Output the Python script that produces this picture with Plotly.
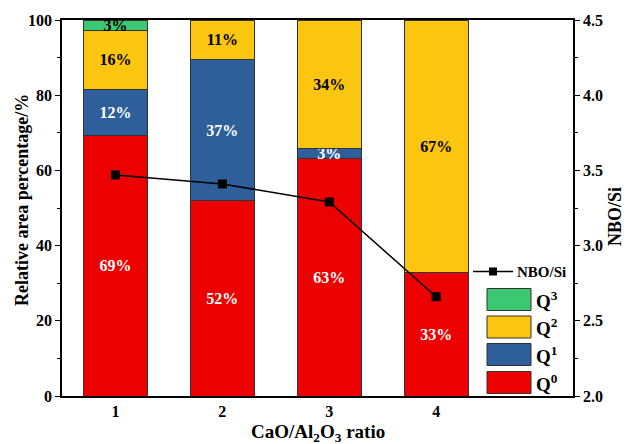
import plotly.graph_objects as go

categories = [1, 2, 3, 4]
q0 = [69.4, 51.9, 63.2, 32.8]
q1 = [12.1, 37.5, 2.7, 0]
q2 = [15.8, 10.6, 34.1, 67.2]
q3 = [2.7, 0, 0, 0]
q0_lbl = ["69%", "52%", "63%", "33%"]
q1_lbl = ["12%", "37%", "3%", ""]
q2_lbl = ["16%", "11%", "34%", "67%"]
q3_lbl = ["3%", "", "", ""]
nbo_si = [3.47, 3.41, 3.29, 2.66]

FONT = "Liberation Serif"
RED = "#EC0000"
BLUE = "#2F5F9B"
YELLOW = "#FCC50F"
GREEN = "#3CC873"
EDGE = "#333333"

series = [
    ("Q<sup>0</sup>", q0, q0_lbl, RED, "white"),
    ("Q<sup>1</sup>", q1, q1_lbl, BLUE, "white"),
    ("Q<sup>2</sup>", q2, q2_lbl, YELLOW, "black"),
    ("Q<sup>3</sup>", q3, q3_lbl, GREEN, "black"),
]

fig = go.Figure()
for name, vals, lbl, col, tcol in series:
    fig.add_trace(go.Bar(
        x=categories, y=vals, name=name, text=lbl,
        textposition="inside", insidetextanchor="middle",
        textfont=dict(family=FONT, size=16, color=tcol, weight="bold"),
        marker=dict(color=col, line=dict(color=EDGE, width=1)),
        width=0.6, showlegend=False, yaxis="y",
    ))

fig.add_trace(go.Scatter(
    x=categories, y=nbo_si, name="NBO/Si", yaxis="y2",
    mode="lines+markers",
    line=dict(color="black", width=1.5),
    marker=dict(symbol="square", size=9, color="black"),
    showlegend=False,
))

L, R, T, B = 62, 573, 20, 396
W, H = R - L, B - T

def px(x):
    return (x - L) / W

def py(y):
    return (B - y) / H

shapes = []
annotations = []

# legend: NBO/Si line entry
shapes.append(dict(type="line", xref="paper", yref="paper",
                   x0=px(473), x1=px(513), y0=py(271.5), y1=py(271.5),
                   line=dict(color="black", width=1.5)))
shapes.append(dict(type="rect", xref="paper", yref="paper",
                   x0=px(489), x1=px(497), y0=py(275.5), y1=py(267.5),
                   fillcolor="black", line=dict(color="black", width=0)))
annotations.append(dict(xref="paper", yref="paper", x=px(515), y=py(271.5),
                        text="NBO/Si", showarrow=False, xanchor="left", yanchor="middle",
                        font=dict(family=FONT, size=15, color="black", weight="bold")))

leg_items = [("Q<sup>3</sup>", GREEN, 288.5), ("Q<sup>2</sup>", YELLOW, 316),
             ("Q<sup>1</sup>", BLUE, 343.5), ("Q<sup>0</sup>", RED, 371.5)]
for name, col, ytop in leg_items:
    shapes.append(dict(type="rect", xref="paper", yref="paper",
                       x0=px(487), x1=px(531), y0=py(ytop + 22), y1=py(ytop),
                       fillcolor=col, line=dict(color=EDGE, width=1)))
    annotations.append(dict(xref="paper", yref="paper", x=px(534), y=py(ytop + 11),
                            text=name, showarrow=False, xanchor="left", yanchor="middle",
                            font=dict(family=FONT, size=19, color="black", weight="bold")))

title_font = dict(family=FONT, size=19, color="black", weight="bold")
annotations += [
    dict(xref="paper", yref="paper", x=px(318), y=py(433), text="CaO/Al<sub>2</sub>O<sub>3</sub> ratio",
         showarrow=False, xanchor="center", yanchor="middle", font=title_font),
    dict(xref="paper", yref="paper", x=px(22), y=py(200), text="Relative area percentage/%",
         showarrow=False, xanchor="center", yanchor="middle", textangle=-90,
         font=dict(family=FONT, size=18, color="black", weight="bold")),
    dict(xref="paper", yref="paper", x=px(615), y=py(217), text="NBO/Si",
         showarrow=False, xanchor="center", yanchor="middle", textangle=-90,
         font=dict(family=FONT, size=18, color="black", weight="bold")),
]

fig.update_layout(
    width=627, height=444,
    margin=dict(l=L, r=627 - R, t=T, b=444 - B, autoexpand=False),
    paper_bgcolor="white", plot_bgcolor="white",
    barmode="stack",
    uniformtext=dict(mode="show", minsize=16),
    font=dict(family=FONT, size=16, color="black"),
    xaxis=dict(
        range=[0.5, 5.28], tickvals=categories, ticktext=[str(c) for c in categories],
        showline=True, linecolor="black", linewidth=1.5, mirror=True,
        ticks="", showgrid=False, zeroline=False, automargin=False,
        tickfont=dict(family=FONT, size=16, weight="bold"),
    ),
    yaxis=dict(
        range=[0, 100], dtick=20, automargin=False,
        showline=True, linecolor="black", linewidth=1.5, mirror=False,
        ticks="outside", ticklen=5, tickwidth=1.2, tickcolor="black",
        minor=dict(ticks="outside", ticklen=3, tickwidth=1, tickcolor="black", dtick=10),
        showgrid=False, zeroline=False,
        tickfont=dict(family=FONT, size=16, weight="bold"),
    ),
    yaxis2=dict(
        range=[2.0, 4.5], dtick=0.5, tickformat=".1f", overlaying="y", side="right",
        showline=True, linecolor="black", linewidth=1.5, automargin=False,
        ticks="outside", ticklen=5, tickwidth=1.2, tickcolor="black",
        minor=dict(ticks="outside", ticklen=3, tickwidth=1, tickcolor="black", dtick=0.25),
        showgrid=False, zeroline=False,
        tickfont=dict(family=FONT, size=16, weight="bold"),
    ),
    showlegend=False,
    shapes=shapes,
    annotations=annotations,
)

fig.write_html("out.html", config={"displayModeBar": False},
               post_script="document.body.style.margin='0';")
